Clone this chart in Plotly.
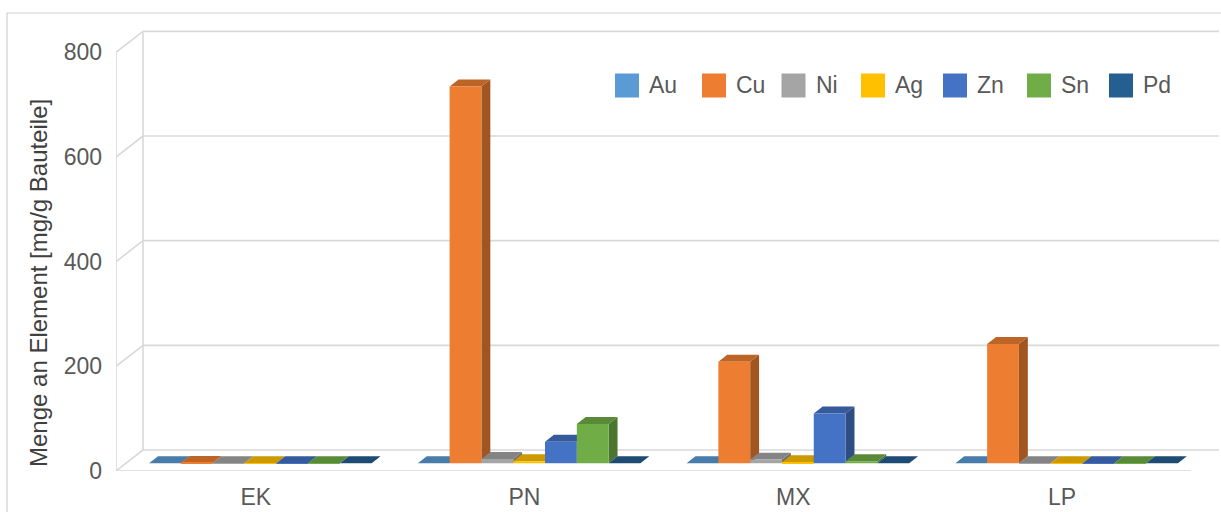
import plotly.graph_objects as go

# ---- data -------------------------------------------------------------
categories = ["EK", "PN", "MX", "LP"]
elements = ["Au", "Cu", "Ni", "Ag", "Zn", "Sn", "Pd"]

au = [0, 0, 0, 0]
cu = [0.5, 720, 194, 228]
ni = [0.3, 8, 7, 0.3]
ag = [0.2, 4, 2, 0.2]
zn = [0.2, 41, 95, 0.2]
sn = [0.3, 75, 4, 0.2]
pd_ = [0, 0, 0, 0]

series_values = [au, cu, ni, ag, zn, sn, pd_]
colors = ["#5B9BD5", "#ED7D31", "#A5A5A5", "#FFC000", "#4472C4", "#70AD47", "#255E91"]
y_ticks = [0, 200, 400, 600, 800]

# ---- geometry (cabinet-style 3D projection) ---------------------------
W, H = 1221, 512
M_L, M_T, M_B = 116, 0, 41
PLOT_W = W - M_L
PLOT_H = H - M_T - M_B
PX_PER_CAT = 268.75
Y_MAX = 900.0
PX_PER_UNIT = PLOT_H / Y_MAX
X_RANGE = [-0.5, -0.5 + PLOT_W / PX_PER_CAT]
Y_RANGE = [0, Y_MAX]

DX = 27 / PX_PER_CAT          # floor depth, horizontal component
DY = 21 / PX_PER_UNIT         # floor depth, vertical component
F0, F1 = 0.37, 0.70           # bar front / back depth as fraction of floor depth
BAR_W = 31.8 / PX_PER_CAT
GROUP_W = BAR_W * len(elements)
BASE = F0 * DY
BDX = (F1 - F0) * DX
BDY = (F1 - F0) * DY

GRID = "#D9D9D9"
TEXT = "#595959"
FONT = "Liberation Sans, Arial, sans-serif"


def shade(hex_color, f):
    h = hex_color.lstrip("#")
    r, g, b = (int(h[i:i + 2], 16) for i in (0, 2, 4))
    return "#{:02X}{:02X}{:02X}".format(int(r * f), int(g * f), int(b * f))


fig = go.Figure()

# side and top faces (drawn below the front faces)
for i, (vals, col) in enumerate(zip(series_values, colors)):
    off = -GROUP_W / 2 + i * BAR_W + F0 * DX
    sx, sy, tx, ty = [], [], [], []
    for c, v in enumerate(vals):
        xl = c + off
        xr = xl + BAR_W
        y0 = BASE
        y1 = BASE + v
        if v > 0:
            sx += [xr, xr, xr + BDX, xr + BDX, xr, None]
            sy += [y0, y1, y1 + BDY, y0 + BDY, y0, None]
        tx += [xl, xr, xr + BDX, xl + BDX, xl, None]
        ty += [y1, y1, y1 + BDY, y1 + BDY, y1, None]
    fig.add_trace(go.Scatter(x=sx, y=sy, mode="lines", fill="toself",
                             fillcolor=shade(col, 0.68), line=dict(width=0),
                             hoverinfo="skip", showlegend=False))
    fig.add_trace(go.Scatter(x=tx, y=ty, mode="lines", fill="toself",
                             fillcolor=shade(col, 0.80), line=dict(width=0),
                             hoverinfo="skip", showlegend=False))

# front faces of the columns
for i, (name, vals, col) in enumerate(zip(elements, series_values, colors)):
    fig.add_trace(go.Bar(
        x=list(range(len(categories))), y=vals, base=BASE,
        offset=-GROUP_W / 2 + i * BAR_W + F0 * DX, width=BAR_W,
        marker=dict(color=col, line=dict(width=0)),
        name=name, showlegend=False, xaxis="x2", yaxis="y2",
    ))

# walls and floor
shapes = []
x_front = -0.5
x_back = -0.5 + DX
x_grid_end = (1219 - M_L) / PX_PER_CAT - 0.5
line = dict(color=GRID, width=1.6)
shapes.append(dict(type="line", xref="x", yref="y", x0=x_front, y0=0, x1=x_front,
                   y1=y_ticks[-1], line=line, layer="below"))
shapes.append(dict(type="line", xref="x", yref="y", x0=x_back, y0=DY, x1=x_back,
                   y1=y_ticks[-1] + DY, line=line, layer="below"))
for v in y_ticks:
    shapes.append(dict(type="line", xref="x", yref="y", x0=x_front, y0=v, x1=x_back,
                       y1=v + DY, line=line, layer="below"))
    shapes.append(dict(type="line", xref="x", yref="y", x0=x_back, y0=v + DY,
                       x1=x_grid_end, y1=v + DY, line=line, layer="below"))
shapes.append(dict(type="line", xref="x", yref="y", x0=x_front, y0=0,
                   x1=len(categories) - 0.5, y1=0, line=line, layer="below"))

# chart frame
def px_to_paper_x(px):
    return (px - M_L) / PLOT_W


def px_to_paper_y(py):
    return (M_T + PLOT_H - py) / PLOT_H


shapes.append(dict(type="rect", xref="paper", yref="paper",
                   x0=px_to_paper_x(7), y0=px_to_paper_y(530),
                   x1=px_to_paper_x(1240), y1=px_to_paper_y(13),
                   line=dict(color="#D0D0D0", width=1.2), layer="below"))

# legend
annotations = []
legend_x = [615, 702, 781.5, 861, 943, 1027, 1109]
leg_cy = 85.5
sw = 24
for name, col, lx in zip(elements, colors, legend_x):
    shapes.append(dict(type="rect", xref="paper", yref="paper",
                       x0=px_to_paper_x(lx), x1=px_to_paper_x(lx + sw),
                       y0=px_to_paper_y(leg_cy + sw / 2), y1=px_to_paper_y(leg_cy - sw / 2),
                       fillcolor=col, line=dict(width=0)))
    annotations.append(dict(xref="paper", yref="paper", x=px_to_paper_x(lx + sw + 8),
                            y=px_to_paper_y(leg_cy), text=name, showarrow=False,
                            xanchor="left", yanchor="middle",
                            font=dict(family=FONT, size=23, color=TEXT)))

# y axis title
annotations.append(dict(xref="paper", yref="paper", x=px_to_paper_x(38),
                        y=px_to_paper_y(283), text="Menge an Element [mg/g Bauteile]",
                        textangle=-90, showarrow=False, xanchor="center",
                        yanchor="middle", font=dict(family=FONT, size=24, color="#404040")))

fig.update_layout(
    width=W, height=H,
    margin=dict(l=M_L, r=0, t=M_T, b=M_B, pad=0),
    paper_bgcolor="white", plot_bgcolor="white",
    barmode="overlay",
    showlegend=False,
    font=dict(family=FONT, size=23, color=TEXT),
    shapes=shapes, annotations=annotations,
    xaxis=dict(range=X_RANGE, showgrid=False, zeroline=False, showline=False,
               tickvals=[c + 0.02 for c in range(len(categories))], ticktext=categories,
               ticks="", ticklabelstandoff=10, tickfont=dict(size=23, color=TEXT)),
    yaxis=dict(range=Y_RANGE, showgrid=False, zeroline=False, showline=False,
               tickvals=y_ticks, ticks="", ticklabelstandoff=13,
               tickfont=dict(size=23, color=TEXT)),
    xaxis2=dict(range=X_RANGE, overlaying="x", anchor="y2", visible=False),
    yaxis2=dict(range=Y_RANGE, overlaying="y", anchor="x2", visible=False),
)

fig.write_html("out.html")
